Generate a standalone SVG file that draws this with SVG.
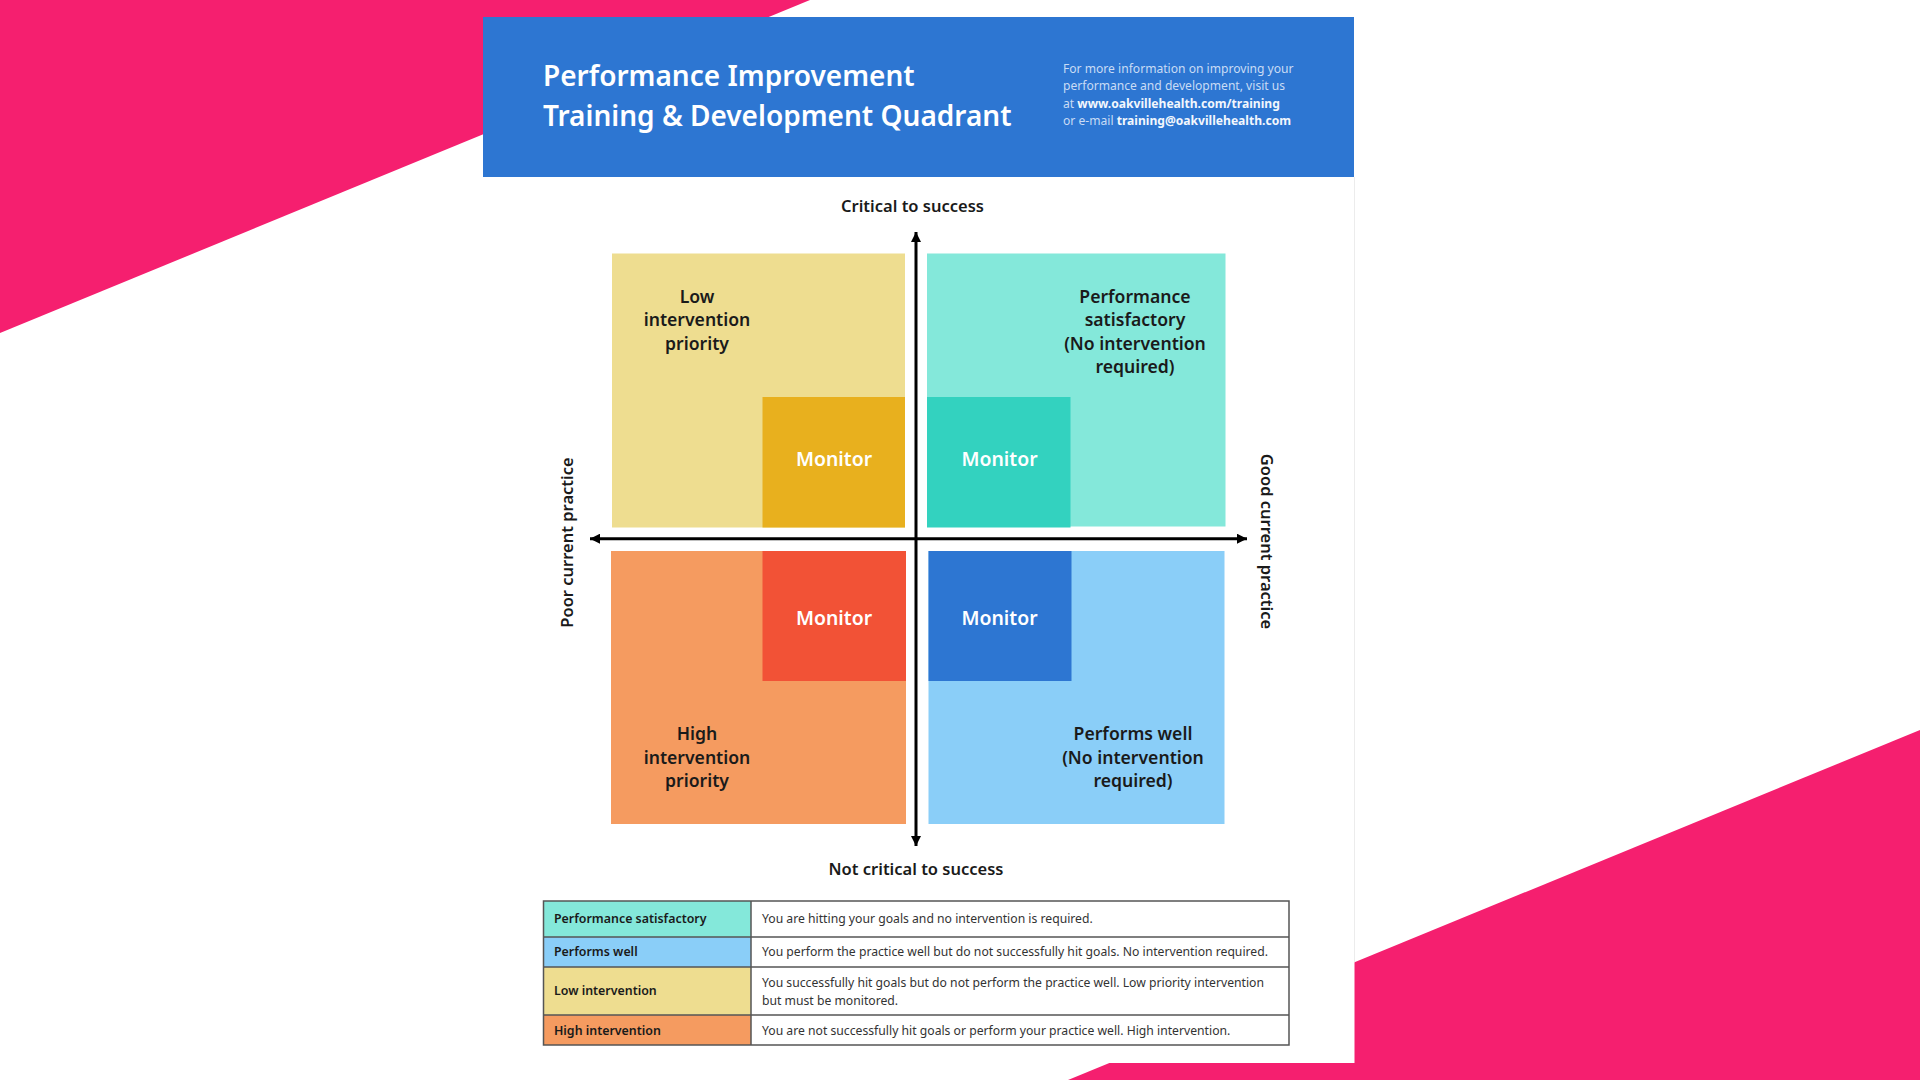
<svg xmlns="http://www.w3.org/2000/svg" width="1920" height="1080" viewBox="0 0 1920 1080">
<style>
text{font-family:"Noto Sans","Open Sans",sans-serif}
.title{font-size:28px;font-weight:600;fill:#fff}
.info{font-size:12.1px;fill:#c9dcf5}
.info tspan{font-weight:700;fill:#f2f7fd}
.q{font-size:17.6px;font-weight:600;fill:#1a1a1a;text-anchor:middle}
.m{font-size:19.4px;font-weight:600;fill:#fff;text-anchor:middle}
.ax{font-size:16.5px;font-weight:600;fill:#1a1a1a;text-anchor:middle}
.tk{font-size:12.4px;font-weight:600;fill:#1a1a1a}
.tv{font-size:12.2px;fill:#333}
.rule{stroke:#555;stroke-width:1.5;fill:none}
.axis{stroke:#000;stroke-width:3;fill:none}
</style>
<defs>
<marker id="ah" viewBox="0 0 10 10" refX="10" refY="5" markerWidth="3.4" markerHeight="3.4" orient="auto"><path d="M0 0L10 5L0 10Z" fill="#000"/></marker>
</defs>
<rect width="1920" height="1080" fill="#fff"/>
<polygon points="0,0 810,0 0,333" fill="#f51f6f"/>
<polygon points="1068,1080 1920,730 1920,1080" fill="#f51f6f"/>
<rect x="483" y="17" width="871.500" height="1046" fill="#fff"/>
<line x1="1354.500" y1="177" x2="1354.500" y2="962" stroke="#ececec"/>
<g id="header">
<rect x="483" y="17" width="871" height="160" fill="#2d76d2"/>
<text class="title" x="543" y="86">Performance Improvement</text>
<text class="title" x="543" y="126">Training &amp; Development Quadrant</text>
<text class="info" x="1063" y="73">For more information on improving your</text>
<text class="info" x="1063" y="90">performance and development, visit us</text>
<text class="info" x="1063" y="108">at <tspan>www.oakvillehealth.com/training</tspan></text>
<text class="info" x="1063" y="125">or e-mail <tspan>training@oakvillehealth.com</tspan></text>
</g>
<g id="node-low">
<rect x="612" y="253.500" width="293" height="274" fill="#eedd90"/>
<rect x="762.500" y="397" width="142.500" height="130.500" fill="#e8b01e"/>
<text class="q" x="697" y="302.500">Low</text><text class="q" x="697" y="326">intervention</text><text class="q" x="697" y="350">priority</text>
<text class="m" x="834" y="466">Monitor</text>
</g>
<g id="node-satisfactory">
<rect x="927" y="253.500" width="298.500" height="273" fill="#84e8da"/>
<rect x="927" y="397" width="143.500" height="130.500" fill="#33d2bf"/>
<text class="q" x="1135" y="302.500">Performance</text><text class="q" x="1135" y="326">satisfactory</text><text class="q" x="1135" y="350">(No intervention</text><text class="q" x="1135" y="373">required)</text>
<text class="m" x="999.500" y="466">Monitor</text>
</g>
<g id="node-high">
<rect x="611" y="551" width="295" height="273" fill="#f59b60"/>
<rect x="762.500" y="551" width="143.500" height="130" fill="#f25236"/>
<text class="q" x="697" y="740">High</text><text class="q" x="697" y="763.500">intervention</text><text class="q" x="697" y="787">priority</text>
<text class="m" x="834" y="624.500">Monitor</text>
</g>
<g id="node-well">
<rect x="928.500" y="551" width="296" height="273" fill="#8acef8"/>
<rect x="928.500" y="551" width="143" height="130" fill="#2d76d2"/>
<text class="q" x="1133" y="740">Performs well</text><text class="q" x="1133" y="763.500">(No intervention</text><text class="q" x="1133" y="787">required)</text>
<text class="m" x="999.500" y="624.500">Monitor</text>
</g>
<g id="connectors">
<line class="axis" x1="916" y1="539" x2="916" y2="232" marker-end="url(#ah)"/>
<line class="axis" x1="916" y1="539" x2="916" y2="846" marker-end="url(#ah)"/>
<line class="axis" x1="916" y1="538.700" x2="590" y2="538.700" marker-end="url(#ah)"/>
<line class="axis" x1="916" y1="538.700" x2="1247" y2="538.700" marker-end="url(#ah)"/>
</g>
<g id="axis-labels">
<text class="ax" x="912.500" y="212">Critical to success</text>
<text class="ax" x="916" y="875">Not critical to success</text>
<text class="ax" transform="translate(573 542.500) rotate(-90)">Poor current practice</text>
<text class="ax" transform="translate(1261 541.500) rotate(90)">Good current practice</text>
</g>
<g id="legend">
<rect x="543.500" y="901" width="207.500" height="36" fill="#84e8da"/>
<rect x="543.500" y="937" width="207.500" height="30" fill="#8acef8"/>
<rect x="543.500" y="967" width="207.500" height="48" fill="#eedd90"/>
<rect x="543.500" y="1015" width="207.500" height="30" fill="#f59b60"/>
<rect class="rule" x="543.500" y="901" width="745.500" height="144"/>
<path class="rule" d="M543.500 937H1289M543.500 967H1289M543.500 1015H1289M751 901V1045"/>
<text class="tk" x="554" y="923">Performance satisfactory</text>
<text class="tk" x="554" y="956">Performs well</text>
<text class="tk" x="554" y="995">Low intervention</text>
<text class="tk" x="554" y="1035">High intervention</text>
<text class="tv" x="762" y="923">You are hitting your goals and no intervention is required.</text>
<text class="tv" x="762" y="956">You perform the practice well but do not successfully hit goals. No intervention required.</text>
<text class="tv" x="762" y="987">You successfully hit goals but do not perform the practice well. Low priority intervention</text>
<text class="tv" x="762" y="1005">but must be monitored.</text>
<text class="tv" x="762" y="1035">You are not successfully hit goals or perform your practice well. High intervention.</text>
</g>
</svg>
